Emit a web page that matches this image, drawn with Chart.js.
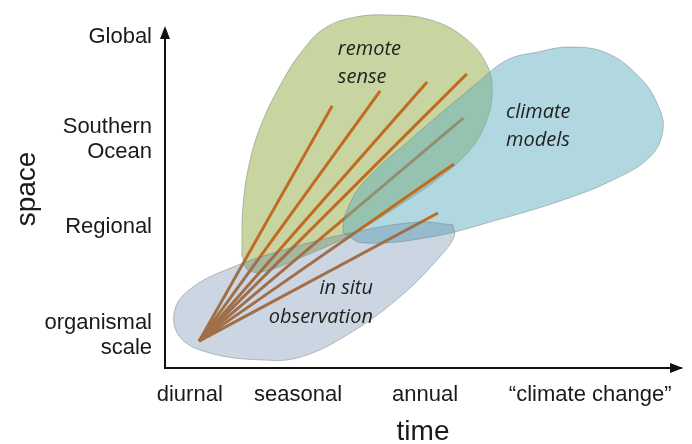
<!DOCTYPE html>
<html>
<head>
<meta charset="utf-8">
<script src="https://cdn.jsdelivr.net/npm/chart.js@4/dist/chart.umd.min.js"></script>
<style>
  html, body { margin: 0; padding: 0; background: #ffffff; }
  #wrap { width: 692px; height: 444px; }
</style>
</head>
<body>
<div id="wrap"><canvas id="scaleChart" width="692" height="444"></canvas></div>
<script>
// axis categories (time / space), placed on a 0..100 scale
const timeTicks = [4.8, 25.8, 50.4, 82.4];
const timeLabels = ['diurnal', 'seasonal', 'annual', '\u201cclimate change\u201d'];
const spaceTicks = [9.7, 41.5, 67.1, 97.4];
const spaceLabels = [['organismal', 'scale'], 'Regional', ['Southern', 'Ocean'], 'Global'];

// outlines of the three domains
const remoteX = [14.9, 15.1, 16.5, 19.0, 22.9, 26.7, 31.0, 36.8, 43.6, 51.4, 58.1, 62.4, 63.4, 62.0, 59.1, 53.9, 45.5, 35.9, 26.2, 19.4, 16.1, 14.9];
const remoteY = [33.2, 47.4, 61.2, 72.9, 84.7, 93.5, 100.0, 103.2, 103.8, 102.4, 97.1, 89.1, 80.3, 71.5, 64.1, 56.8, 47.9, 39.1, 32.4, 28.5, 28.8, 33.2];

const modelX = [34.5, 34.9, 38.4, 48.1, 60.5, 66.3, 72.1, 78.5, 85.7, 92.1, 95.5, 96.5, 94.0, 86.8, 77.1, 64.3, 51.4, 38.4, 34.5];
const modelY = [39.7, 45.0, 54.4, 67.9, 83.8, 90.6, 92.9, 94.4, 92.6, 85.3, 77.4, 70.0, 62.1, 55.3, 49.4, 43.5, 38.5, 36.8, 39.7];

const insituX = [55.8, 48.8, 35.9, 22.9, 13.2, 5.4, 1.9, 2.9, 8.7, 18.4, 26.2, 35.9, 45.5, 52.7, 56.0, 55.8];
const insituY = [42.1, 42.9, 39.7, 34.7, 29.7, 23.8, 17.1, 9.1, 4.4, 2.4, 3.2, 10.3, 20.9, 31.8, 38.5, 42.1];

// fan of sampling lines from one origin
const fanOrigin = [6.6, 7.9];
const fanEndX = [32.4, 41.7, 50.8, 58.5, 57.8, 56.0, 52.9];
const fanEndY = [77.1, 81.5, 84.1, 86.5, 73.5, 60.0, 45.6];

// labels inside the domains
const blobText = [
    { lines: ['remote', 'sense'], x: 33.5, y: [93.8, 85.6], align: 'left' },
    { lines: ['climate', 'models'], x: 66.1, y: [75.3, 67.1], align: 'left' },
    { lines: ['in situ', 'observation'], x: 40.3, y: [23.5, 15.0], align: 'right' }
];

function toPoints(xs, ys) {
    return xs.map((x, i) => ({ x: x, y: ys[i] }));
}

function blob(xs, ys, fillColor, order) {
    return {
        data: toPoints(xs, ys),
        showLine: true,
        fill: 'shape',
        backgroundColor: fillColor,
        borderColor: 'rgba(110,120,120,0.45)',
        borderWidth: 1,
        tension: 0.4,
        pointRadius: 0,
        clip: false,
        order: order
    };
}

const datasets = [];
datasets.push(blob(remoteX, remoteY, 'rgba(170,190,109,0.65)', 6));
datasets.push(blob(modelX, modelY, 'rgba(99,177,193,0.5)', 3));
datasets.push(blob(insituX, insituY, 'rgba(85,118,158,0.3)', 1));

fanEndX.forEach((ex, i) => {
    datasets.push({
        data: [{ x: fanOrigin[0], y: fanOrigin[1] }, { x: ex, y: fanEndY[i] }],
        showLine: true,
        borderColor: '#c06a22',
        borderWidth: 3,
        pointRadius: 0,
        fill: false,
        clip: false,
        // lines 6 and 7 sit above the climate-model blob
        order: i >= 5 ? 2 : 4
    });
});

const extras = {
    id: 'extras',
    afterDatasetsDraw(chart) {
        const ctx = chart.ctx;
        const sx = chart.scales.x, sy = chart.scales.y;
        ctx.save();
        ctx.fillStyle = '#222';
        ctx.font = 'italic 20px "Open Sans"';
        ctx.textBaseline = 'middle';
        blobText.forEach(b => {
            ctx.textAlign = b.align;
            b.lines.forEach((t, j) => {
                ctx.fillText(t, sx.getPixelForValue(b.x), sy.getPixelForValue(b.y[j]));
            });
        });
        ctx.restore();
    },
    afterDraw(chart) {
        const ctx = chart.ctx;
        const a = chart.chartArea;
        const top = chart.scales.y.getPixelForValue(100);
        ctx.save();
        // space axis with its arrow
        ctx.strokeStyle = '#111';
        ctx.lineWidth = 2;
        ctx.beginPath();
        ctx.moveTo(a.left, a.bottom + 1);
        ctx.lineTo(a.left, top + 6);
        ctx.stroke();
        ctx.fillStyle = '#111';
        ctx.beginPath();
        ctx.moveTo(a.left, top - 2);
        ctx.lineTo(a.left - 5, top + 11);
        ctx.lineTo(a.left + 5, top + 11);
        ctx.closePath();
        ctx.fill();
        // arrow on the time axis
        ctx.beginPath();
        ctx.moveTo(a.right + 2, a.bottom);
        ctx.lineTo(a.right - 11, a.bottom - 5);
        ctx.lineTo(a.right - 11, a.bottom + 5);
        ctx.closePath();
        ctx.fill();
        ctx.restore();
    }
};

new Chart(document.getElementById('scaleChart'), {
    type: 'scatter',
    data: { datasets: datasets },
    options: {
        responsive: false,
        animation: false,
        layout: { padding: { top: 10, right: 11, left: 0, bottom: 0 } },
        elements: { line: { capBezierPoints: false } },
        plugins: {
            legend: { display: false },
            tooltip: { enabled: false }
        },
        scales: {
            x: {
                type: 'linear',
                min: 0, max: 100,
                grid: { display: false, drawTicks: false },
                border: { display: true, color: '#111', width: 2 },
                afterBuildTicks: s => { s.ticks = timeTicks.map(v => ({ value: v })); },
                afterFit: s => { s.height = 76; s.paddingLeft = 0; s.paddingRight = 0; },
                ticks: {
                    autoSkip: false,
                    maxRotation: 0,
                    padding: 14,
                    color: '#1a1a1a',
                    font: { family: '"Liberation Sans", Arial, sans-serif', size: 22 },
                    callback: (v, i) => timeLabels[i]
                },
                title: {
                    display: true,
                    text: 'time',
                    color: '#1a1a1a',
                    font: { family: '"Liberation Sans", Arial, sans-serif', size: 28 },
                    padding: { top: 0, bottom: -5 }
                }
            },
            y: {
                type: 'linear',
                min: 0, max: 105.3,
                grid: { display: false, drawTicks: false },
                border: { display: false },
                afterBuildTicks: s => { s.ticks = spaceTicks.map(v => ({ value: v })); },
                afterFit: s => { s.width = 165; s.paddingTop = 0; s.paddingBottom = 0; },
                ticks: {
                    autoSkip: false,
                    padding: 13,
                    color: '#1a1a1a',
                    font: { family: '"Liberation Sans", Arial, sans-serif', size: 22, lineHeight: 1.14 },
                    callback: (v, i) => spaceLabels[i]
                },
                title: {
                    display: true,
                    text: 'space',
                    color: '#1a1a1a',
                    font: { family: '"Liberation Sans", Arial, sans-serif', size: 28 },
                    padding: { top: 10, bottom: 0 }
                }
            }
        }
    },
    plugins: [extras]
});
</script>
</body>
</html>
